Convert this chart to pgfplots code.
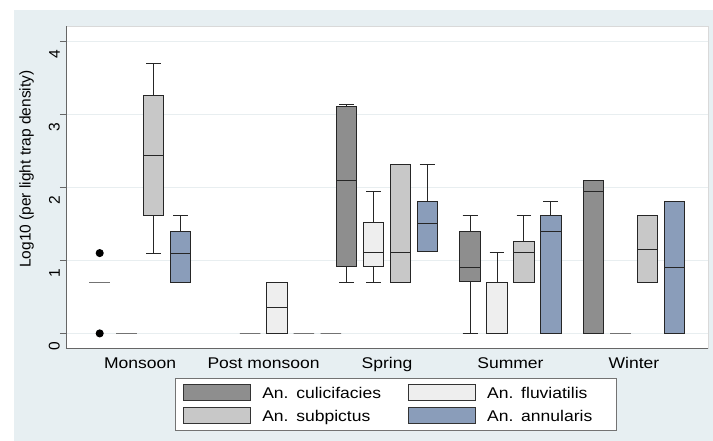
\documentclass[border=0pt]{standalone}
\usepackage{pgfplots}
\pgfplotsset{compat=1.18}
\usepgfplotslibrary{statistics}
\usepackage{fontspec}
\setmainfont[FakeStretch=1.13]{Liberation Sans}
\newfontfamily\rotfont{Liberation Sans}
\definecolor{bgc}{RGB}{231,239,242}
\definecolor{gridc}{RGB}{232,238,240}
\definecolor{ccul}{RGB}{142,142,142}
\definecolor{cflu}{RGB}{238,238,238}
\definecolor{csub}{RGB}{200,200,200}
\definecolor{cann}{RGB}{138,157,186}
% draw position, lower whisker, lower quartile, median, upper quartile, upper whisker, fill, edge
\newcommand{\bx}[8]{\addplot[forget plot, boxplot prepared={draw position=#1, lower whisker=#2, lower quartile=#3, median=#4, upper quartile=#5, upper whisker=#6, box extend=0.166, whisker extend=0.12}, draw=#8, fill=#7, line width=1bp, mark=none] coordinates {};}
\newcommand{\legbox}[1]{\addlegendimage{legend image code/.code={\path (0bp,-2.5bp) (0bp,13.5bp); \draw[draw=black!80,line width=1bp,fill=#1] (2.7bp,-2.5bp) rectangle (69.7bp,13.5bp);}}}
\begin{document}
\fontsize{15.5bp}{18bp}\selectfont
\begin{tikzpicture}
\fill[white] (-66bp,-93bp) rectangle (647bp,348bp);
\fill[bgc] (-52bp,-93bp) rectangle (647bp,338bp);
\begin{axis}[
  at={(0,0)}, anchor=south west,
  scale only axis, width=642bp, height=322bp,
  xmin=-0.6, xmax=4.6, ymin=-0.2, ymax=4.21,
  boxplot/draw direction=y,
  axis background/.style={fill=white, draw=black!15},
  axis x line*=bottom, axis y line*=left,
  axis line style={-, draw=black!60, line width=0.9bp},
  xtick={0,1,2,3,4},
  xticklabels={Monsoon, Post monsoon, Spring, Summer, Winter},
  xtick style={draw=none},
  ytick={0,1,2,3,4},
  tick align=outside, major tick length=6bp,
  ytick style={draw=black!60, line width=0.9bp},
  /pgf/number format/assume math mode=true,
  xticklabel style={anchor=base, inner sep=0pt, yshift=-14.7bp},
  yticklabel style={font=\rotfont, rotate=90, anchor=south, inner sep=0pt, xshift=-12.75bp},
  ymajorgrids, grid style={draw=gridc, line width=0.9bp},
  ylabel={Log10 (per light trap density)},
  ylabel style={font=\rotfont, at={(axis description cs:-0.0612,0.5553)}, anchor=center},
  legend columns=2,
  legend style={at={(axis description cs:0.1698,-0.0932)}, anchor=north west,
    draw=black!55, line width=0.8bp, fill=white, inner xsep=5bp, inner ysep=6bp,
    row sep=6bp,
    cells={anchor=base west},
    nodes={inner sep=0pt, text width=124bp},
    /tikz/every odd column/.append style={column sep=11.3bp},
    /tikz/every even column/.append style={column sep=19bp}},
]
% Monsoon
\addplot[forget plot, boxplot prepared={draw position=-0.327, lower whisker=0.7, lower quartile=0.7, median=0.7, upper quartile=0.7, upper whisker=0.7, box extend=0.166, whisker extend=0.12}, draw=black!55, fill=ccul, line width=1bp, mark=*, mark size=3.5bp, mark options={fill=black, draw=black, solid}] coordinates {(0,0) (0,1.1)};
\bx{-0.109}{0}{0}{0}{0}{0}{cflu}{black!55}
\bx{0.109}{1.1}{1.62}{2.44}{3.26}{3.70}{csub}{black!85}
\bx{0.327}{0.7}{0.7}{1.1}{1.39}{1.61}{cann}{black!85}
% Post monsoon
\bx{0.891}{0}{0}{0}{0}{0}{ccul}{black!55}
\bx{1.109}{0}{0}{0.35}{0.7}{0.7}{cflu}{black!85}
\bx{1.327}{0}{0}{0}{0}{0}{csub}{black!55}
\bx{1.545}{0}{0}{0}{0}{0}{cann}{black!55}
% Spring
\bx{1.673}{0.7}{0.91}{2.1}{3.11}{3.14}{ccul}{black!85}
\bx{1.891}{0.7}{0.91}{1.11}{1.52}{1.95}{cflu}{black!85}
\bx{2.109}{0.7}{0.7}{1.11}{2.31}{2.31}{csub}{black!85}
\bx{2.327}{1.12}{1.12}{1.51}{1.80}{2.31}{cann}{black!85}
% Summer
\bx{2.673}{0}{0.71}{0.90}{1.39}{1.61}{ccul}{black!85}
\bx{2.891}{0}{0}{0}{0.70}{1.11}{cflu}{black!85}
\bx{3.109}{0.7}{0.7}{1.11}{1.26}{1.61}{csub}{black!85}
\bx{3.327}{0}{0}{1.39}{1.61}{1.80}{cann}{black!85}
% Winter
\bx{3.673}{0}{0}{1.95}{2.09}{2.09}{ccul}{black!85}
\bx{3.891}{0}{0}{0}{0}{0}{cflu}{black!55}
\bx{4.109}{0.7}{0.7}{1.15}{1.61}{1.61}{csub}{black!85}
\bx{4.327}{0}{0}{0.9}{1.8}{1.8}{cann}{black!85}
\legbox{ccul}\addlegendentry{An. culicifacies}
\legbox{cflu}\addlegendentry{An. fluviatilis}
\legbox{csub}\addlegendentry{An. subpictus}
\legbox{cann}\addlegendentry{An. annularis}
\end{axis}
\end{tikzpicture}
\end{document}
